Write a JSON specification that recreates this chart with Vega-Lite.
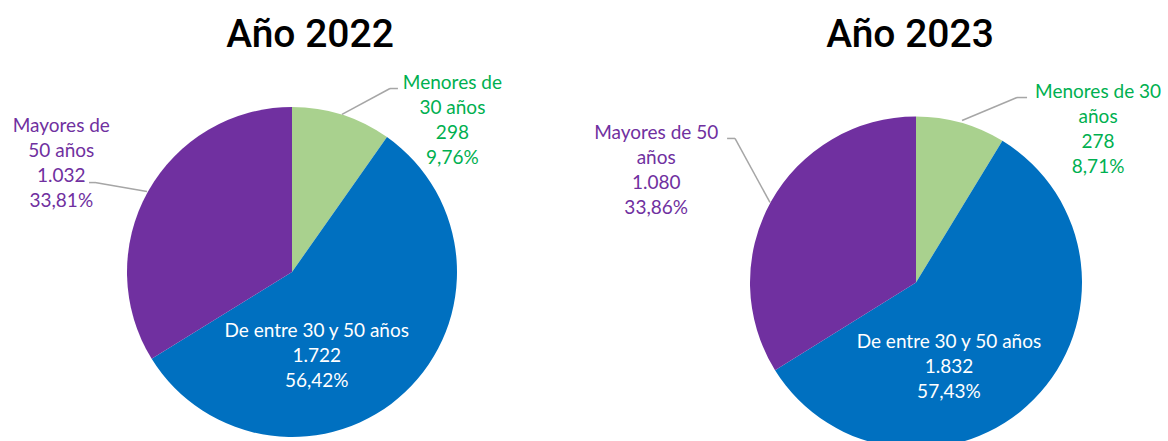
{
  "$schema": "https://vega.github.io/schema/vega-lite/v6.json",
  "background": "white",
  "padding": {"left": 0, "right": 0, "top": 16, "bottom": 0},
  "spacing": 40,
  "bounds": "flush",
  "config": {
    "view": {"stroke": null},
    "locale": {"number": {"decimal": ",", "thousands": ".", "grouping": [3], "currency": ["", " €"]}},
    "title": {"font": "Roboto", "fontSize": 39, "fontWeight": 500, "color": "#000000", "baseline": "alphabetic", "offset": 0, "anchor": "middle"},
    "text": {"font": "Lato", "fontSize": 19, "lineHeight": 25, "align": "center", "baseline": "middle"}
  },
  "datasets": {
    "plantilla": [
      {"anio": 2022, "grupo": "Menores de 30 años", "personas": 298},
      {"anio": 2022, "grupo": "De entre 30 y 50 años", "personas": 1722},
      {"anio": 2022, "grupo": "Mayores de 50 años", "personas": 1032},
      {"anio": 2023, "grupo": "Menores de 30 años", "personas": 278},
      {"anio": 2023, "grupo": "De entre 30 y 50 años", "personas": 1832},
      {"anio": 2023, "grupo": "Mayores de 50 años", "personas": 1080}
    ]
  },
  "hconcat": [
    {
      "title": {"text": "Año 2022", "dx": 18},
      "width": 584,
      "height": 426,
      "data": {"name": "plantilla"},
      "transform": [
        {"filter": "datum.anio == 2022"},
        {"calculate": "indexof(['Menores de 30 años', 'De entre 30 y 50 años', 'Mayores de 50 años'], datum.grupo)", "as": "orden"},
        {"joinaggregate": [{"op": "sum", "field": "personas", "as": "total"}]},
        {"window": [{"op": "sum", "field": "personas", "as": "acum"}], "sort": [{"field": "orden"}], "frame": [null, 0]},
        {"calculate": "datum.personas / datum.total", "as": "pct"},
        {"calculate": "datum.acum / datum.total", "as": "fin"},
        {"calculate": "datum.fin - datum.pct", "as": "ini"},
        {"calculate": "datum.fin - datum.pct / 2", "as": "mid"}
      ],
      "layer": [
        {
          "mark": {"type": "arc", "outerRadius": 165},
          "encoding": {
            "theta": {"field": "ini", "type": "quantitative", "stack": null, "scale": {"domain": [0, 1]}},
            "theta2": {"field": "fin"},
            "color": {"field": "grupo", "type": "nominal", "legend": null,
              "scale": {"domain": ["Menores de 30 años", "De entre 30 y 50 años", "Mayores de 50 años"], "range": ["#A9D18E", "#0070C0", "#7030A0"]}}
          }
        },
        {
          "transform": [
            {"filter": "datum.grupo == 'De entre 30 y 50 años'"},
            {"calculate": "[datum.grupo, format(datum.personas, ','), format(datum.pct, '.2%')]", "as": "etiqueta"}
          ],
          "mark": {"type": "text", "radius": 90, "dx": -37, "dy": -7, "color": "#FFFFFF"},
          "encoding": {
            "theta": {"field": "mid", "type": "quantitative", "stack": null, "scale": {"domain": [0, 1]}},
            "text": {"field": "etiqueta", "type": "nominal"}
          }
        },
        {
          "transform": [
            {"filter": "datum.grupo == 'Menores de 30 años'"},
            {"calculate": "[slice(datum.grupo, 0, 10), slice(datum.grupo, 11), format(datum.personas, ','), format(datum.pct, '.2%')]", "as": "etiqueta"}
          ],
          "mark": {"type": "text", "radius": 200, "dx": 100, "dy": 1.5, "color": "#00B050"},
          "encoding": {
            "theta": {"field": "mid", "type": "quantitative", "stack": null, "scale": {"domain": [0, 1]}},
            "text": {"field": "etiqueta", "type": "nominal"}
          }
        },
        {
          "transform": [
            {"filter": "datum.grupo == 'Mayores de 50 años'"},
            {"calculate": "[slice(datum.grupo, 0, 10), slice(datum.grupo, 11), format(datum.personas, ','), format(datum.pct, '.2%')]", "as": "etiqueta"}
          ],
          "mark": {"type": "text", "radius": 200, "dx": -56, "dy": -48.5, "color": "#7030A0"},
          "encoding": {
            "theta": {"field": "mid", "type": "quantitative", "stack": null, "scale": {"domain": [0, 1]}},
            "text": {"field": "etiqueta", "type": "nominal"}
          }
        },
        {
          "data": {"values": [{}]},
          "mark": {"type": "rule", "color": "#A6A6A6", "strokeWidth": 1.5},
          "encoding": {
            "x": {"datum": 0.303, "type": "quantitative", "scale": {"domain": [-1.7697, 1.7697], "nice": false, "zero": false}, "axis": null},
            "y": {"datum": 0.955, "type": "quantitative", "scale": {"domain": [-1.2909, 1.2909], "nice": false, "zero": false}, "axis": null},
            "x2": {"datum": 0.594},
            "y2": {"datum": 1.112}
          }
        },
        {
          "data": {"values": [{}]},
          "mark": {"type": "rule", "color": "#A6A6A6", "strokeWidth": 1.5},
          "encoding": {
            "x": {"datum": 0.594, "type": "quantitative", "axis": null},
            "y": {"datum": 1.112, "type": "quantitative", "axis": null},
            "x2": {"datum": 0.642},
            "y2": {"datum": 1.112}
          }
        },
        {
          "data": {"values": [{}]},
          "mark": {"type": "rule", "color": "#A6A6A6", "strokeWidth": 1.5},
          "encoding": {
            "x": {"datum": -1.23, "type": "quantitative", "axis": null},
            "y": {"datum": 0.542, "type": "quantitative", "axis": null},
            "x2": {"datum": -1.194},
            "y2": {"datum": 0.542}
          }
        },
        {
          "data": {"values": [{}]},
          "mark": {"type": "rule", "color": "#A6A6A6", "strokeWidth": 1.5},
          "encoding": {
            "x": {"datum": -1.194, "type": "quantitative", "axis": null},
            "y": {"datum": 0.542, "type": "quantitative", "axis": null},
            "x2": {"datum": -0.879},
            "y2": {"datum": 0.488}
          }
        }
      ]
    },
    {
      "title": {"text": "Año 2023", "dx": -6},
      "width": 584,
      "height": 447,
      "data": {"name": "plantilla"},
      "transform": [
        {"filter": "datum.anio == 2023"},
        {"calculate": "indexof(['Menores de 30 años', 'De entre 30 y 50 años', 'Mayores de 50 años'], datum.grupo)", "as": "orden"},
        {"joinaggregate": [{"op": "sum", "field": "personas", "as": "total"}]},
        {"window": [{"op": "sum", "field": "personas", "as": "acum"}], "sort": [{"field": "orden"}], "frame": [null, 0]},
        {"calculate": "datum.personas / datum.total", "as": "pct"},
        {"calculate": "datum.acum / datum.total", "as": "fin"},
        {"calculate": "datum.fin - datum.pct", "as": "ini"},
        {"calculate": "datum.fin - datum.pct / 2", "as": "mid"}
      ],
      "layer": [
        {
          "mark": {"type": "arc", "outerRadius": 166},
          "encoding": {
            "theta": {"field": "ini", "type": "quantitative", "stack": null, "scale": {"domain": [0, 1]}},
            "theta2": {"field": "fin"},
            "color": {"field": "grupo", "type": "nominal", "legend": null,
              "scale": {"domain": ["Menores de 30 años", "De entre 30 y 50 años", "Mayores de 50 años"], "range": ["#A9D18E", "#0070C0", "#7030A0"]}}
          }
        },
        {
          "transform": [
            {"filter": "datum.grupo == 'De entre 30 y 50 años'"},
            {"calculate": "[datum.grupo, format(datum.personas, ','), format(datum.pct, '.2%')]", "as": "etiqueta"}
          ],
          "mark": {"type": "text", "radius": 90, "dx": -31, "dy": -4, "color": "#FFFFFF"},
          "encoding": {
            "theta": {"field": "mid", "type": "quantitative", "stack": null, "scale": {"domain": [0, 1]}},
            "text": {"field": "etiqueta", "type": "nominal"}
          }
        },
        {
          "transform": [
            {"filter": "datum.grupo == 'Menores de 30 años'"},
            {"calculate": "[slice(datum.grupo, 0, 13), slice(datum.grupo, 14), format(datum.personas, ','), format(datum.pct, '.2%')]", "as": "etiqueta"}
          ],
          "mark": {"type": "text", "radius": 200, "dx": 128, "dy": 2.5, "color": "#00B050"},
          "encoding": {
            "theta": {"field": "mid", "type": "quantitative", "stack": null, "scale": {"domain": [0, 1]}},
            "text": {"field": "etiqueta", "type": "nominal"}
          }
        },
        {
          "transform": [
            {"filter": "datum.grupo == 'Mayores de 50 años'"},
            {"calculate": "[slice(datum.grupo, 0, 13), slice(datum.grupo, 14), format(datum.personas, ','), format(datum.pct, '.2%')]", "as": "etiqueta"}
          ],
          "mark": {"type": "text", "radius": 200, "dx": -85, "dy": -52.5, "color": "#7030A0"},
          "encoding": {
            "theta": {"field": "mid", "type": "quantitative", "stack": null, "scale": {"domain": [0, 1]}},
            "text": {"field": "etiqueta", "type": "nominal"}
          }
        },
        {
          "data": {"values": [{}]},
          "mark": {"type": "rule", "color": "#A6A6A6", "strokeWidth": 1.5},
          "encoding": {
            "x": {"datum": 0.279, "type": "quantitative", "scale": {"domain": [-1.7697, 1.7697], "nice": false, "zero": false}, "axis": null},
            "y": {"datum": 0.982, "type": "quantitative", "scale": {"domain": [-1.3545, 1.3545], "nice": false, "zero": false}, "axis": null},
            "x2": {"datum": 0.612},
            "y2": {"datum": 1.121}
          }
        },
        {
          "data": {"values": [{}]},
          "mark": {"type": "rule", "color": "#A6A6A6", "strokeWidth": 1.5},
          "encoding": {
            "x": {"datum": 0.612, "type": "quantitative", "axis": null},
            "y": {"datum": 1.121, "type": "quantitative", "axis": null},
            "x2": {"datum": 0.673},
            "y2": {"datum": 1.121}
          }
        },
        {
          "data": {"values": [{}]},
          "mark": {"type": "rule", "color": "#A6A6A6", "strokeWidth": 1.5},
          "encoding": {
            "x": {"datum": -1.145, "type": "quantitative", "axis": null},
            "y": {"datum": 0.873, "type": "quantitative", "axis": null},
            "x2": {"datum": -1.097},
            "y2": {"datum": 0.873}
          }
        },
        {
          "data": {"values": [{}]},
          "mark": {"type": "rule", "color": "#A6A6A6", "strokeWidth": 1.5},
          "encoding": {
            "x": {"datum": -1.097, "type": "quantitative", "axis": null},
            "y": {"datum": 0.873, "type": "quantitative", "axis": null},
            "x2": {"datum": -0.885},
            "y2": {"datum": 0.485}
          }
        }
      ]
    }
  ]
}
